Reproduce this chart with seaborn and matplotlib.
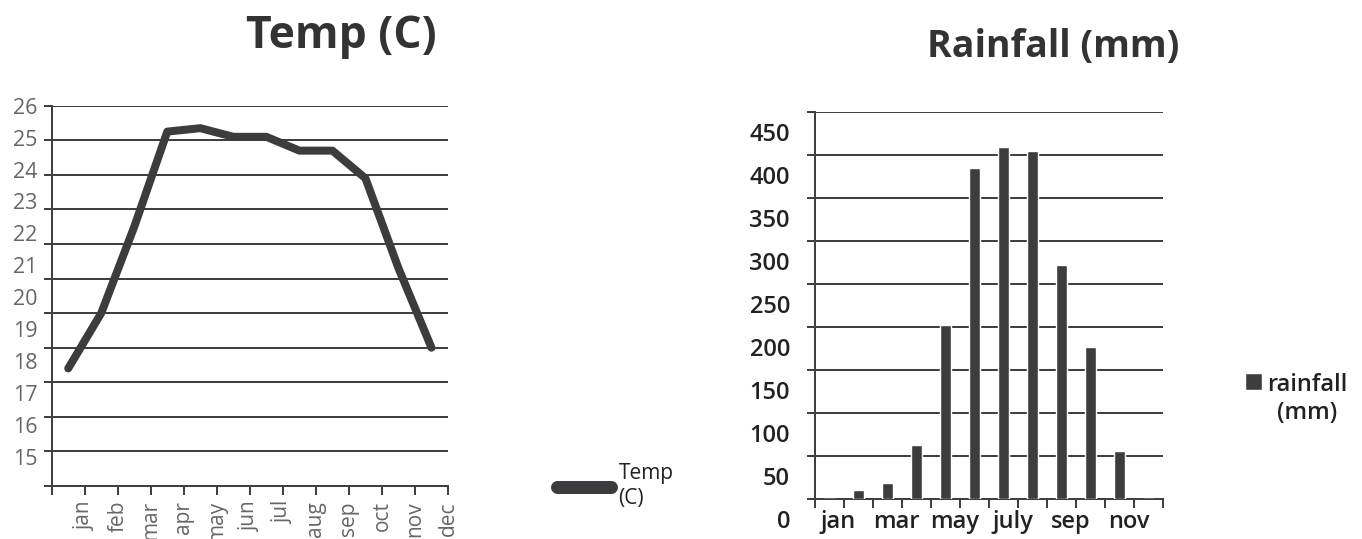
import matplotlib
matplotlib.use("Agg")
import matplotlib.pyplot as plt
import matplotlib.transforms as mtransforms
import numpy as np
import pandas as pd
import seaborn as sns

# ---- data ----
temp_months = ["jan", "feb", "mar", "apr", "may", "jun", "jul", "aug", "sep", "oct", "nov", "dec"]
temp_c = [18.4, 20.0, 22.5, 25.25, 25.35, 25.1, 25.1, 24.7, 24.7, 23.9, 21.3, 19.0]
temp_ticks = list(range(15, 27))

rain_months = ["jan", "feb", "mar", "apr", "may", "jun", "july", "aug", "sep", "oct", "nov", "dec"]
rain_mm = [0, 10, 18, 62, 202, 385, 410, 405, 272, 177, 56, 0]
rain_ticks = list(range(0, 451, 50))
rain_shown = ["jan", "mar", "may", "july", "sep", "nov"]

sns.set_theme(style="white")
plt.rcParams['font.family'] = ['Open Sans', 'DejaVu Sans']

DPI = 100
W, H = 1362, 539
fig = plt.figure(figsize=(W / DPI, H / DPI), dpi=DPI)

def px(p):  # pixels -> points
    return p * 72.0 / DPI

line_col = "#3c3c3e"
grid_col = "#404040"

# ---------------- Temperature line chart ----------------
ax1 = fig.add_axes([51.7 / W, 1 - 486 / H, (448 - 51.7) / W, (486 - 105.7) / H])
df_t = pd.DataFrame({"pos": np.arange(len(temp_months)), "temp": temp_c})
sns.lineplot(data=df_t, x="pos", y="temp", ax=ax1, color=line_col, linewidth=px(8),
             solid_capstyle="round", solid_joinstyle="round", label="Temp\n(C)", zorder=3)
ax1.set_xlim(-0.5, 11.5)
ax1.set_ylim(15, 26)
ax1.set_xlabel("")
ax1.set_ylabel("")
for s in ["top", "right"]:
    ax1.spines[s].set_visible(False)
for s in ["left", "bottom"]:
    ax1.spines[s].set_color(grid_col)
    ax1.spines[s].set_linewidth(px(2))
ax1.yaxis.grid(True, color=grid_col, linewidth=px(2))
ax1.xaxis.grid(False)
ax1.set_yticks(temp_ticks)
ax1.set_yticklabels([str(v) for v in temp_ticks])
ax1.set_xticks(np.arange(-0.5, 12, 1))
ax1.set_xticklabels([""] + temp_months, rotation=90)
ax1.tick_params(axis="y", direction="out", length=px(8), width=px(2), color=grid_col,
                labelcolor="#666666", labelsize=15.5, pad=px(6), left=True)
ax1.tick_params(axis="x", direction="out", length=px(9), width=px(2), color=grid_col,
                labelcolor="#666666", labelsize=15, pad=px(6), bottom=True)
# tick labels in the reference drift progressively upward
for lab, v in zip(ax1.get_yticklabels(), temp_ticks):
    k = 26 - v
    lab.set_transform(lab.get_transform() + mtransforms.ScaledTranslation(0, 2.66 * k / DPI, fig.dpi_scale_trans))
leg1 = ax1.legend(loc="center left", bbox_to_anchor=(557 / W, 1 - 486 / H), bbox_transform=fig.transFigure,
                  frameon=False, borderpad=0, borderaxespad=0, handlelength=2.6, handletextpad=0.35,
                  prop={"size": 15})
for t in leg1.get_texts():
    t.set_color("#222222")
for h in leg1.get_lines():
    h.set_linewidth(px(13))
    h.set_solid_capstyle("round")

fig.text(341.5 / W, 1 - 48 / H, "Temp (C)", ha="center", va="baseline", fontsize=32,
         fontweight="bold", color="#333333")

# ---------------- Rainfall bar chart ----------------
ax2 = fig.add_axes([815 / W, 1 - 498.7 / H, (1163 - 815) / W, (498.7 - 112.3) / H])
df_r = pd.DataFrame({"month": rain_months, "rain": rain_mm})
sns.barplot(data=df_r, x="month", y="rain", ax=ax2, color="#3d3d3f", saturation=1,
            width=0.38, label="rainfall\n(mm)", zorder=3)
ax2.set_xlim(-0.5, 11.5)
ax2.set_ylim(0, 450)
ax2.set_xlabel("")
ax2.set_ylabel("")
for s in ["top", "right"]:
    ax2.spines[s].set_visible(False)
for s in ["left", "bottom"]:
    ax2.spines[s].set_color(grid_col)
    ax2.spines[s].set_linewidth(px(2))
ax2.yaxis.grid(True, color=grid_col, linewidth=px(2))
ax2.xaxis.grid(False)
ax2.set_yticks(rain_ticks)
ax2.set_yticklabels([str(v) for v in rain_ticks])
ax2.set_xticks(np.arange(-0.5, 12, 1))
ax2.set_xticklabels([""] * 13)
shown_pos = [rain_months.index(m) for m in rain_shown]
ax2.set_xticks(shown_pos, minor=True)
ax2.set_xticklabels(rain_shown, minor=True)
ax2.tick_params(axis="y", direction="out", length=px(8), width=px(2), color=grid_col,
                labelcolor="#222222", labelsize=17, pad=px(17), left=True)
ax2.tick_params(axis="x", which="major", direction="out", length=px(9), width=px(2), color=grid_col,
                bottom=True)
ax2.tick_params(axis="x", which="minor", length=0, labelcolor="#222222", labelsize=17, pad=px(11))
for lab in ax2.get_yticklabels():
    lab.set_transform(lab.get_transform() + mtransforms.ScaledTranslation(0, -20 / DPI, fig.dpi_scale_trans))
    lab.set_fontweight("semibold")
for lab in ax2.get_xticklabels(minor=True):
    lab.set_transform(lab.get_transform() + mtransforms.ScaledTranslation(9 / DPI, 0, fig.dpi_scale_trans))
    lab.set_fontweight("semibold")
leg2 = ax2.legend(loc="upper left", bbox_to_anchor=(1245 / W, 1 - 373 / H), bbox_transform=fig.transFigure,
                  frameon=False, borderpad=0, borderaxespad=0, handlelength=0.72, handleheight=0.72,
                  handletextpad=0.2, prop={"size": 17, "weight": "semibold"})
for t in leg2.get_texts():
    t.set_color("#222222")
    t.set_multialignment("center")
# put the square beside the first text line, as in the reference
for col in leg2._legend_handle_box.get_children():
    for row in col.get_children():
        if hasattr(row, "align"):
            row.align = "top"

fig.text(1053 / W, 1 - 56.7 / H, "Rainfall (mm)", ha="center", va="baseline", fontsize=27,
         fontweight="bold", color="#333333")

fig.savefig("out.png", dpi=DPI)
